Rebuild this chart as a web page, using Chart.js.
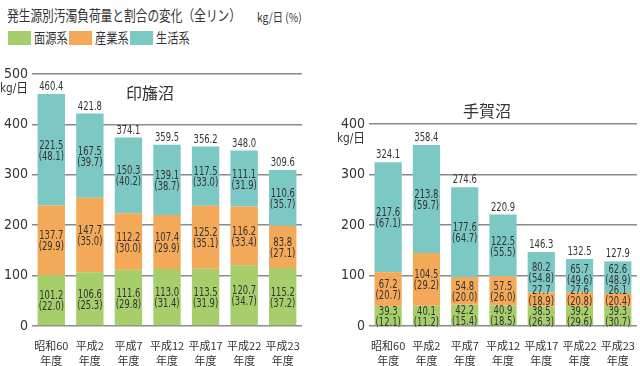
<!DOCTYPE html>
<html><head><meta charset="utf-8">
<script src="https://cdn.jsdelivr.net/npm/chart.js@4.4.1/dist/chart.umd.min.js"></script>
<style>
html,body{margin:0;padding:0;background:#fff;width:640px;height:366px;overflow:hidden;position:relative;font-family:"Noto Sans CJK JP",sans-serif;color:#333}
#title{position:absolute;left:7px;top:5px;font-size:15px;line-height:20px;transform-origin:0 0;transform:scaleX(0.78);white-space:nowrap}
#unit{position:absolute;left:257px;top:9px;font-size:12px;line-height:16px;transform-origin:0 0;transform:scaleX(0.85);white-space:nowrap}
#legend{position:absolute;left:8px;top:30px;height:16px}
.li{position:absolute;top:0;height:16px}
.sw{position:absolute;top:1px;left:0;width:23px;height:14px}
.lt{position:absolute;top:-2px;left:26px;font-size:14px;line-height:19px;transform-origin:0 0;transform:scaleX(0.8);white-space:nowrap}
#c1{position:absolute;left:0;top:0}
#c2{position:absolute;left:320px;top:0}
</style></head>
<body>
<div id="title">発生源別汚濁負荷量と割合の変化（全リン）</div>
<div id="unit">kg/日 (%)</div>
<div id="legend"></div>
<canvas id="c1" width="310" height="366"></canvas>
<canvas id="c2" width="320" height="366"></canvas>
<script>
// ---- data ----
const years = ['昭和60','平成2','平成7','平成12','平成17','平成22','平成23'];
const seriesNames = ['面源系','産業系','生活系'];
const seriesColors = ['#a6cf6b','#f3a957','#7cc8c4'];

const inbaMen = [101.2,106.6,111.6,113.0,113.5,120.7,115.2];
const inbaMenPct = [22.0,25.3,29.8,31.4,31.9,34.7,37.2];
const inbaSan = [137.7,147.7,112.2,107.4,125.2,116.2,83.8];
const inbaSanPct = [29.9,35.0,30.0,29.9,35.1,33.4,27.1];
const inbaSei = [221.5,167.5,150.3,139.1,117.5,111.1,110.6];
const inbaSeiPct = [48.1,39.7,40.2,38.7,33.0,31.9,35.7];
const inbaTotal = [460.4,421.8,374.1,359.5,356.2,348.0,309.6];

const tegaMen = [39.3,40.1,42.2,40.9,38.5,39.2,39.3];
const tegaMenPct = [12.1,11.2,15.4,18.5,26.3,29.6,30.7];
const tegaSan = [67.2,104.5,54.8,57.5,27.7,27.6,26.1];
const tegaSanPct = [20.7,29.2,20.0,26.0,18.9,20.8,20.4];
const tegaSei = [217.6,213.8,177.6,122.5,80.2,65.7,62.6];
const tegaSeiPct = [67.1,59.7,64.7,55.5,54.8,49.6,48.9];
const tegaTotal = [324.1,358.4,274.6,220.9,146.3,132.5,127.9];

// ---- legend ----
const legendXs = [0,61,122];
const leg = document.getElementById('legend');
seriesNames.forEach((n,i)=>{
  const d = document.createElement('div'); d.className='li'; d.style.left=legendXs[i]+'px';
  d.innerHTML = '<div class="sw" style="background:'+seriesColors[i]+'"></div><div class="lt">'+n+'</div>';
  leg.appendChild(d);
});

const numFont = '"DejaVu Sans Condensed","Liberation Sans Narrow","Noto Sans CJK JP",sans-serif';

function narrowText(ctx, txt, x, y, sx){
  ctx.save();
  ctx.translate(x, y);
  ctx.scale(sx, 1);
  ctx.fillText(txt, 0, 0);
  ctx.restore();
}

function makePlugin(pcts, totals, name, nx, ny){
  return {
    id:'segLabels',
    afterDatasetsDraw(chart){
      const ctx = chart.ctx;
      ctx.save();
      ctx.fillStyle = '#333';
      ctx.textAlign = 'center';
      ctx.textBaseline = 'middle';
      ctx.font = '12px ' + numFont;
      const n = chart.data.labels.length;
      for (let j=0;j<n;j++){
        let prev = Infinity;
        chart.data.datasets.forEach((ds,i)=>{
          const bar = chart.getDatasetMeta(i).data[j];
          let cy = (bar.y + bar.base)/2 + 1;
          if (cy > prev - 21) cy = prev - 21;
          prev = cy;
          narrowText(ctx, ds.data[j].toFixed(1), bar.x, cy-5, 0.78);
          narrowText(ctx, '('+pcts[i][j].toFixed(1)+')', bar.x, cy+6, 0.78);
        });
      }
      const top = chart.getDatasetMeta(chart.data.datasets.length-1);
      top.data.forEach((bar,j)=>{
        narrowText(ctx, totals[j].toFixed(1), bar.x, bar.y-7, 0.78);
      });
      // unit under top tick
      const ys = chart.scales.y;
      ctx.textAlign = 'right';
      ctx.font = '13px ' + numFont;
      narrowText(ctx, 'kg/日', ys.right-4, ys.getPixelForValue(ys.max)+15, 0.9);
      // panel name
      ctx.textAlign = 'center';
      ctx.font = '16px "Noto Sans CJK JP",sans-serif';
      ctx.fillText(name, nx, ny);
      ctx.restore();
    }
  };
}

function makeChart(id, men, san, sei, pcts, totals, yMax, yW, padTop, padRight, name, nx, ny){
  const labels = years.map(y=>[y,'年度']);
  const dsData = [men, san, sei];
  return new Chart(document.getElementById(id), {
    type:'bar',
    data:{
      labels,
      datasets: dsData.map((d,i)=>({
        label: seriesNames[i], data: d, backgroundColor: seriesColors[i],
        borderWidth: 0, barPercentage: 0.71, categoryPercentage: 1
      }))
    },
    options:{
      responsive:false, animation:false, devicePixelRatio:1,
      layout:{padding:{top:padTop,right:padRight,left:0,bottom:0}},
      plugins:{legend:{display:false},tooltip:{enabled:false},title:{display:false}},
      scales:{
        x:{stacked:true,
          grid:{display:false}, border:{display:false},
          ticks:{color:'#333',padding:5,font:{family:'"Noto Sans CJK JP"',size:11,lineHeight:1.3},maxRotation:0,autoSkip:false},
          afterFit(s){s.height=40;}
        },
        y:{stacked:true,min:0,max:yMax,
          grid:{color:'#8a8a8a',lineWidth:1.5,drawTicks:false},
          border:{display:false},
          ticks:{stepSize:100,color:'#333',padding:4,font:{family:numFont,size:14}},
          afterFit(s){s.width=yW;}
        }
      }
    },
    plugins:[makePlugin(pcts, totals, name, nx, ny)]
  });
}

makeChart('c1', inbaMen, inbaSan, inbaSei, [inbaMenPct,inbaSanPct,inbaSeiPct], inbaTotal, 500, 32, 74, 8, '印旛沼', 150, 93);
makeChart('c2', tegaMen, tegaSan, tegaSei, [tegaMenPct,tegaSanPct,tegaSeiPct], tegaTotal, 400, 49, 124, 1, '手賀沼', 167, 111);
</script>
</body></html>
